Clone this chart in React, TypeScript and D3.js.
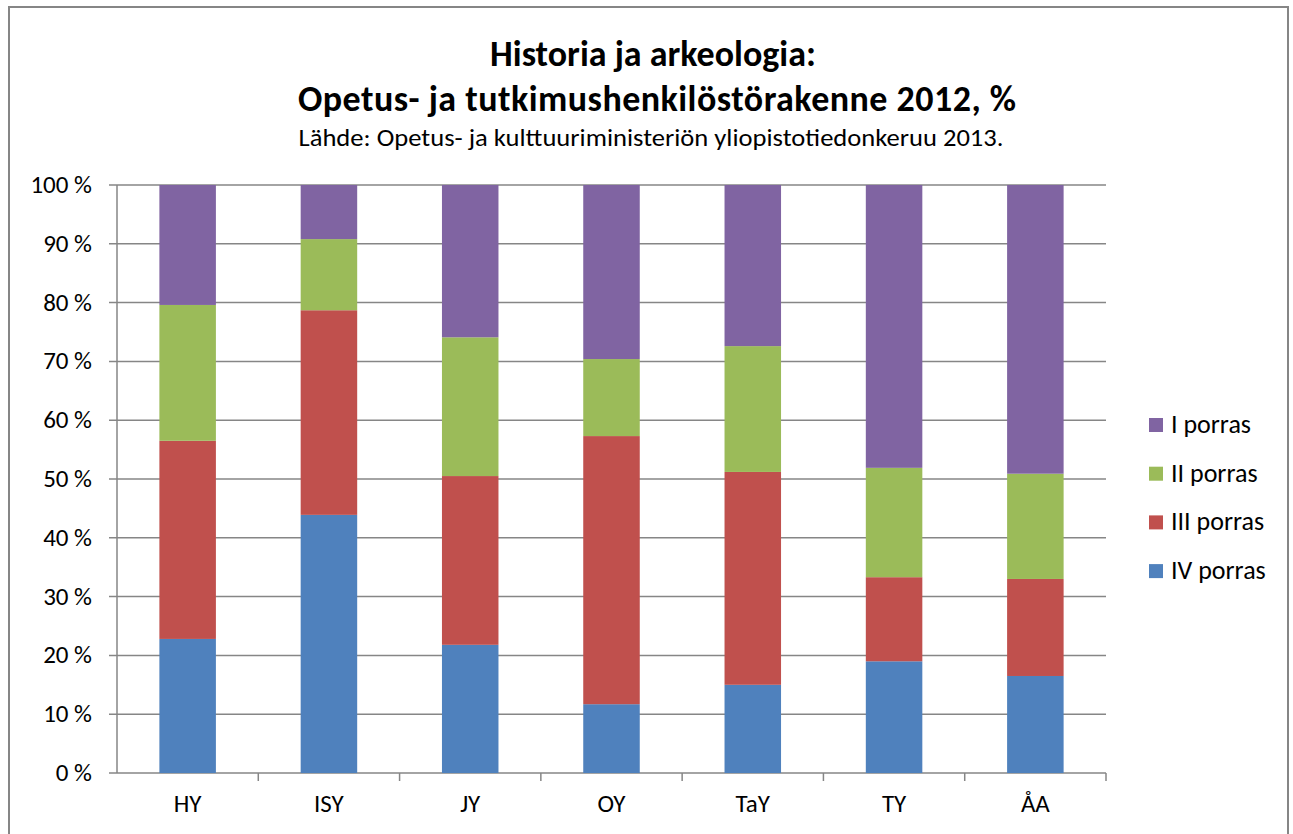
import React from "react";
import * as d3 from "d3";

const categories = ["HY", "ISY", "JY", "OY", "TaY", "TY", "ÅA"];
const seriesNames = ["IV porras", "III porras", "II porras", "I porras"];
const ivPorras = [22.8, 43.9, 21.8, 11.7, 15.0, 19.0, 16.5];
const iiiPorras = [33.7, 34.8, 28.7, 45.6, 36.2, 14.3, 16.5];
const iiPorras = [23.1, 12.1, 23.6, 13.1, 21.4, 18.6, 17.9];
const iPorras = [20.4, 9.2, 25.9, 29.6, 27.4, 48.1, 49.1];
const yTicks = [0, 10, 20, 30, 40, 50, 60, 70, 80, 90, 100];
const colors = ["#4f81bd", "#c0504d", "#9bbb59", "#8064a2"];

const W = 1293;
const H = 834;
const plot = { left: 117, right: 1106, top: 185, bottom: 773 };
const FONT = "Carlito, Calibri, Lato, 'Open Sans', sans-serif";

export default function App() {
  const data = categories.map((c, i) => ({
    cat: c,
    "IV porras": ivPorras[i],
    "III porras": iiiPorras[i],
    "II porras": iiPorras[i],
    "I porras": iPorras[i],
  }));
  const stacked = d3.stack<any>().keys(seriesNames)(data);
  const x = d3.scaleBand().domain(categories).range([plot.left, plot.right]).paddingInner(0.6).paddingOuter(0.3);
  const band = d3.scaleBand().domain(categories).range([plot.left, plot.right]);
  const y = d3.scaleLinear().domain([0, 100]).range([plot.bottom, plot.top]);
  const grid = "#868686";
  const legendOrder = [3, 2, 1, 0];

  return (
    <svg width={W} height={H} style={{ position: "absolute", left: 0, top: 0 }} fontFamily={FONT}>
      <rect x={0} y={0} width={W} height={H} fill="#fff" />
      <rect x={9} y={7} width={1279} height={H + 10} fill="none" stroke={grid} strokeWidth={2} />
      <text x={653} y={66} textAnchor="middle" fontSize={36} fontWeight="bold" fill="#000">
        Historia ja arkeologia:
      </text>
      <text x={657} y={111} textAnchor="middle" fontSize={36} fontWeight="bold" fill="#000" textLength={718} lengthAdjust="spacing">
        Opetus- ja tutkimushenkilöstörakenne 2012, %
      </text>
      <text x={651} y={146} textAnchor="middle" fontSize={25} fill="#000" textLength={705} lengthAdjust="spacingAndGlyphs">
        Lähde: Opetus- ja kulttuuriministeriön yliopistotiedonkeruu 2013.
      </text>

      {yTicks.map((t) => (
        <g key={t}>
          <line x1={plot.left - 8} x2={plot.right} y1={y(t)} y2={y(t)} stroke={grid} strokeWidth={1.5} />
          <text x={92} y={y(t) + 8} textAnchor="end" fontSize={25} fill="#000">
            {t} %
          </text>
        </g>
      ))}
      <line x1={plot.left} x2={plot.left} y1={plot.top} y2={plot.bottom} stroke={grid} strokeWidth={1.5} />
      {categories.map((c) => (
        <line key={"t" + c} x1={(band(c) as number) + band.bandwidth()} x2={(band(c) as number) + band.bandwidth()} y1={plot.bottom} y2={plot.bottom + 8} stroke={grid} strokeWidth={1.5} />
      ))}

      {stacked.map((s, si) => (
        <g key={s.key} fill={colors[si]}>
          {s.map((d, i) => (
            <rect key={i} x={x(categories[i])} width={x.bandwidth()} y={y(d[1])} height={y(d[0]) - y(d[1])} />
          ))}
        </g>
      ))}

      {categories.map((c) => (
        <text key={"l" + c} x={(band(c) as number) + band.bandwidth() / 2} y={812} textAnchor="middle" fontSize={25} fill="#000">
          {c}
        </text>
      ))}

      {legendOrder.map((si, k) => {
        const cy = 425 + k * 48.7;
        return (
          <g key={"lg" + si}>
            <rect x={1149} y={cy - 7} width={14} height={14} fill={colors[si]} />
            <text x={1171} y={cy + 8} fontSize={26} fill="#000">
              {seriesNames[si]}
            </text>
          </g>
        );
      })}
    </svg>
  );
}
